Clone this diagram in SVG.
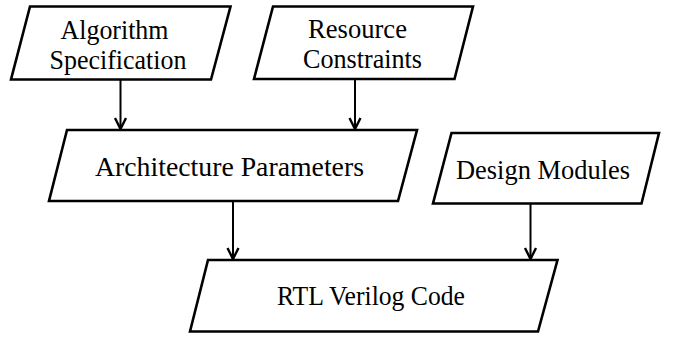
<svg xmlns="http://www.w3.org/2000/svg" width="673" height="337" viewBox="0 0 673 337">
  <style>
    .box { fill: #ffffff; stroke: #000000; stroke-width: 2.6; stroke-linejoin: miter; }
    .label { font-family: "Liberation Serif", "Times New Roman", serif; font-size: 27px; fill: #000000; text-anchor: middle; }
    .wire { fill: none; stroke: #000000; stroke-width: 2; marker-end: url(#arrow); }
  </style>
  <defs>
    <marker id="arrow" markerUnits="userSpaceOnUse" markerWidth="16" markerHeight="16" viewBox="-14 -8 16 16" refX="0" refY="0" orient="auto">
      <path d="M-11,-5.5 L0,0 L-11,5.5" fill="none" stroke="#000000" stroke-width="2.4" stroke-linejoin="miter"/>
    </marker>
  </defs>
  <rect width="673" height="337" fill="#ffffff"/>

  <g id="connectors">
    <line class="wire" x1="120.5" y1="79.5" x2="120.5" y2="129"/>
    <line class="wire" x1="355" y1="79" x2="355" y2="129"/>
    <line class="wire" x1="233" y1="201" x2="233" y2="259"/>
    <line class="wire" x1="530.5" y1="203.5" x2="530.5" y2="259"/>
  </g>

  <g id="algorithm-specification">
    <polygon class="box" points="30,6.5 230.5,6.5 211,79.5 11,79.5"/>
    <text class="label" x="114.5" y="39" textLength="108" lengthAdjust="spacingAndGlyphs">Algorithm</text>
    <text class="label" x="118" y="68.5" textLength="137" lengthAdjust="spacingAndGlyphs">Specification</text>
  </g>

  <g id="resource-constraints">
    <polygon class="box" points="273,6.5 473,6.5 454.5,79 254,79"/>
    <text class="label" x="357.5" y="38" textLength="99" lengthAdjust="spacingAndGlyphs">Resource</text>
    <text class="label" x="362.5" y="68" textLength="119" lengthAdjust="spacingAndGlyphs">Constraints</text>
  </g>

  <g id="architecture-parameters">
    <polygon class="box" points="67,130 417,130 398,201 49,201"/>
    <text class="label" x="229.5" y="175.5" textLength="269" lengthAdjust="spacingAndGlyphs">Architecture Parameters</text>
  </g>

  <g id="design-modules">
    <polygon class="box" points="451.5,133 659,133 641.5,203.5 433,203.5"/>
    <text class="label" x="543" y="178.5" textLength="174" lengthAdjust="spacingAndGlyphs">Design Modules</text>
  </g>

  <g id="rtl-verilog-code">
    <polygon class="box" points="208,260 557.5,260 538,331.5 190,331.5"/>
    <text class="label" x="371" y="305" textLength="188" lengthAdjust="spacingAndGlyphs">RTL Verilog Code</text>
  </g>
</svg>
